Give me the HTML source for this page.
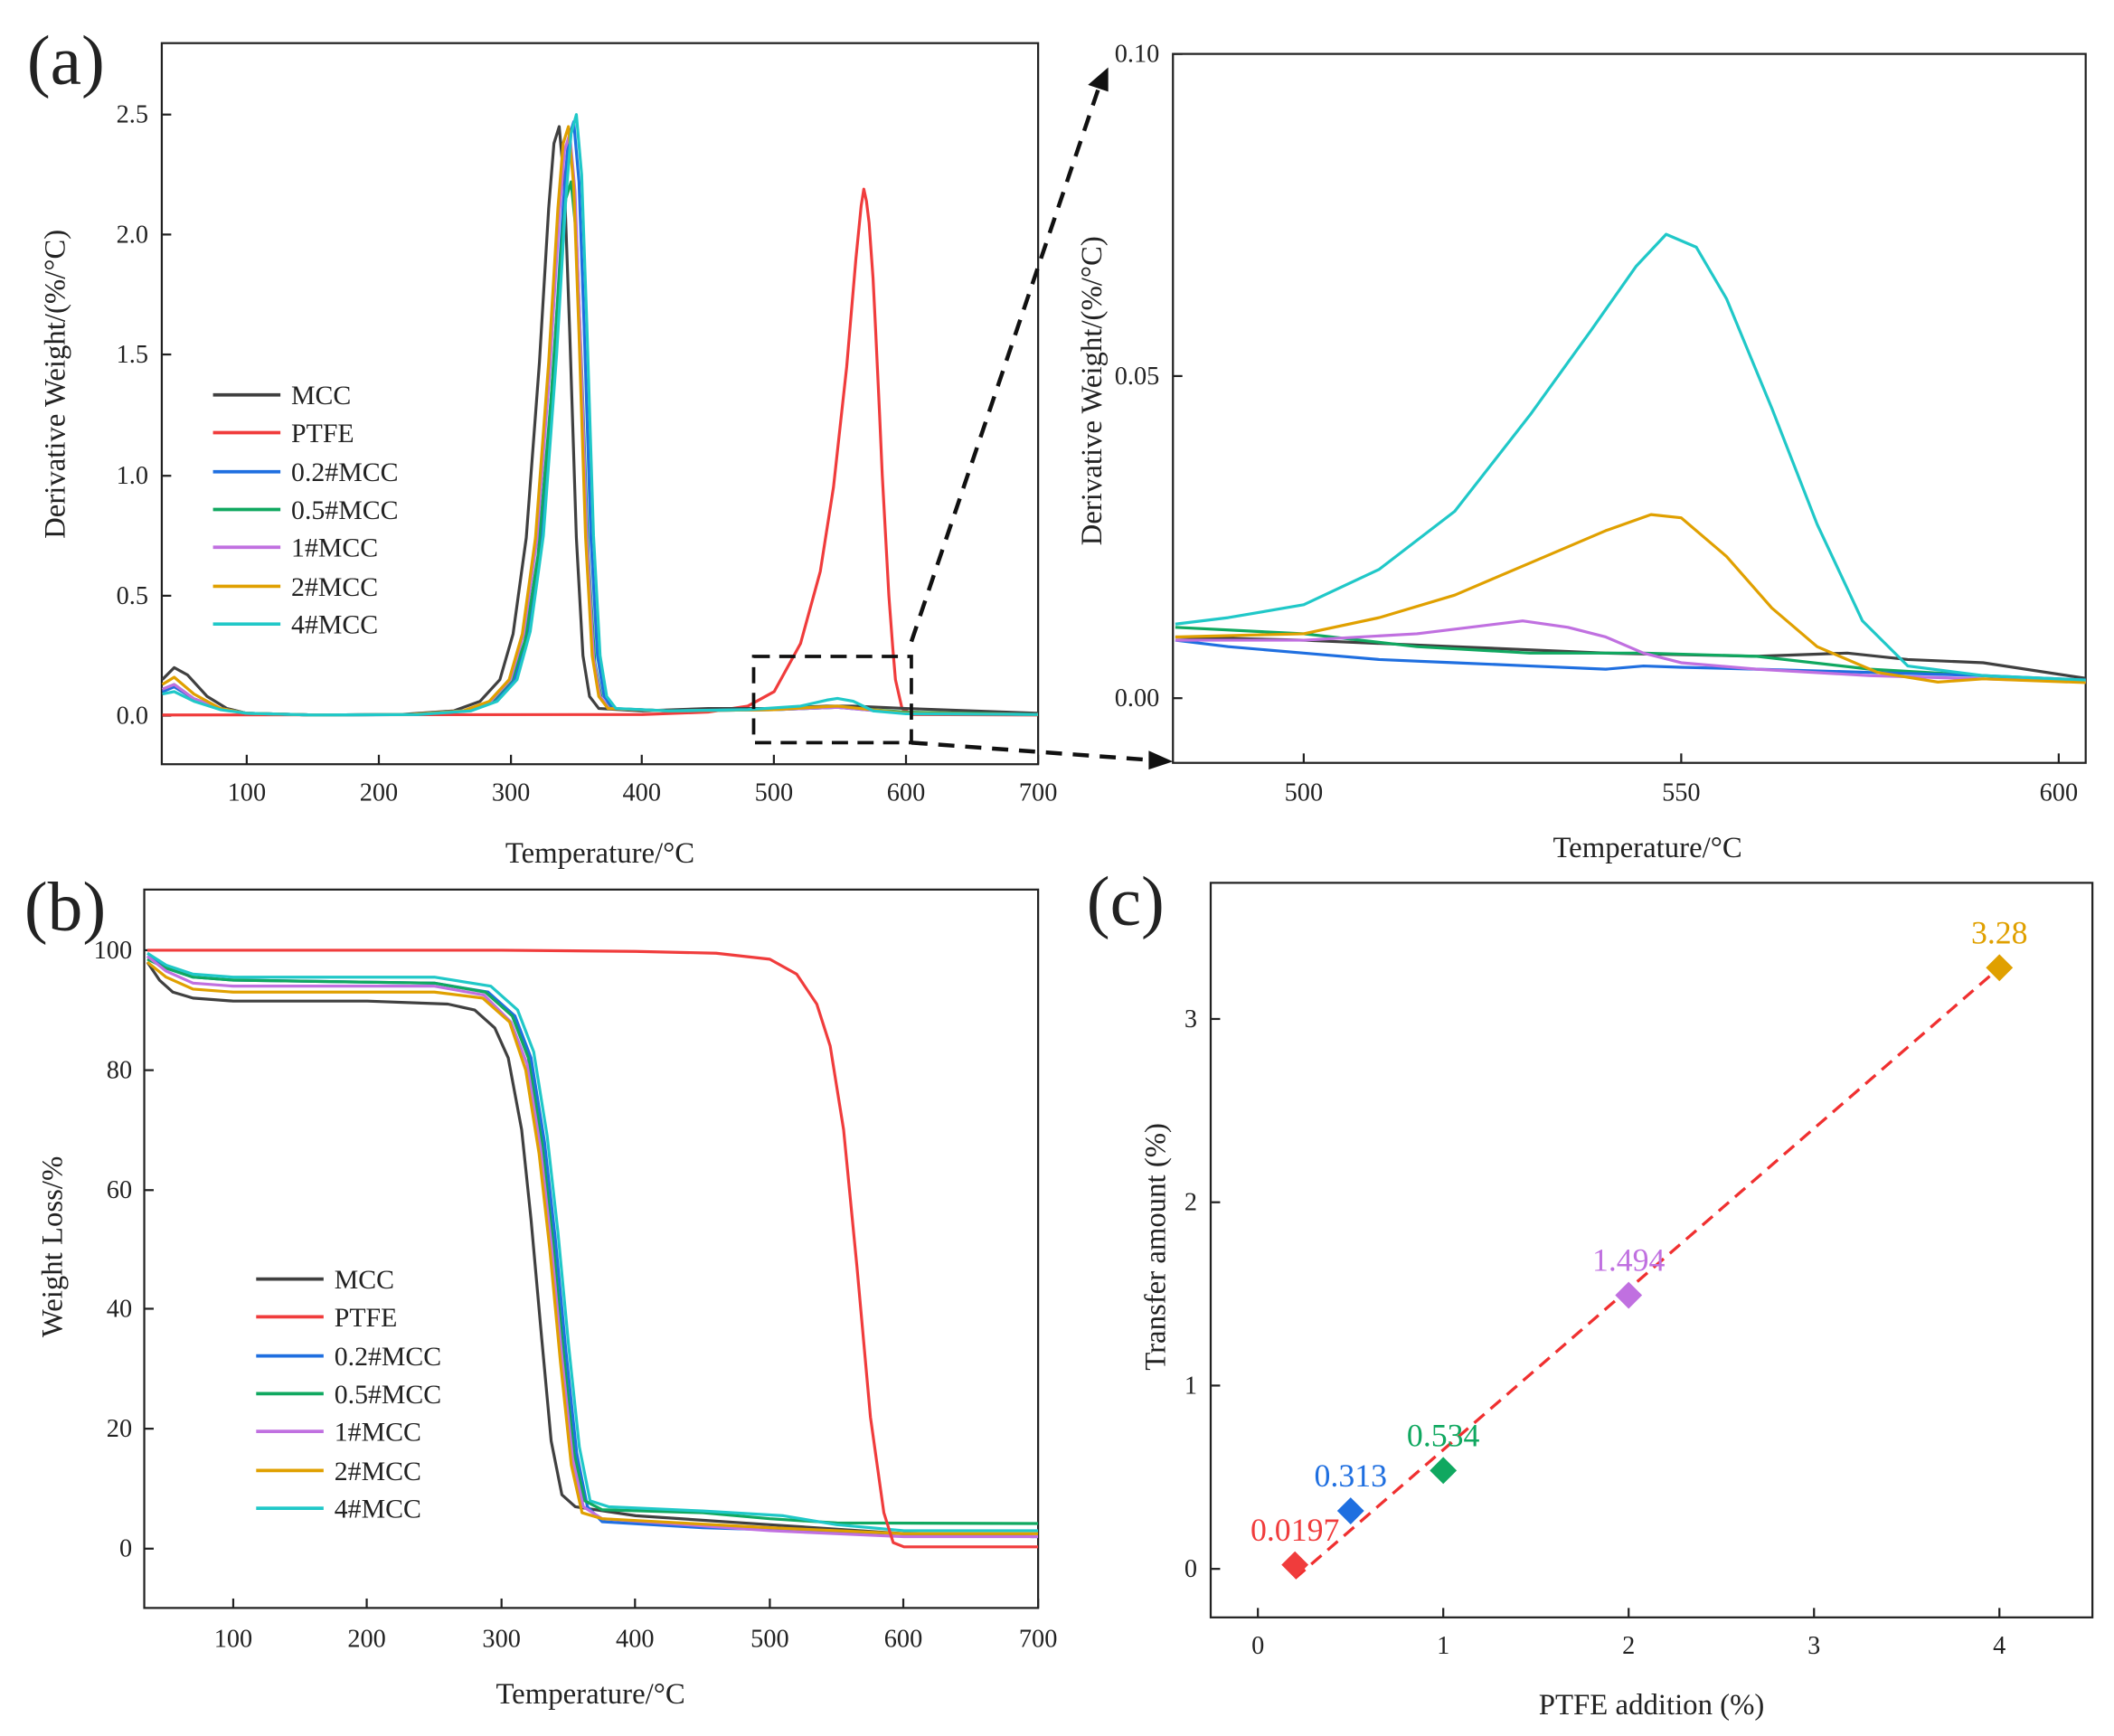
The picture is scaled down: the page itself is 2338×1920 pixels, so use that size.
<!DOCTYPE html>
<html><head><meta charset="utf-8"><style>
html,body{margin:0;padding:0;background:#fff}
svg{display:block}
text{font-family:"Liberation Serif",serif;fill:#222}
polyline{fill:none;vector-effect:non-scaling-stroke;stroke-width:3.2;stroke-linejoin:round}
</style></head><body>
<svg width="2338" height="1920" viewBox="0 0 1568 1288" preserveAspectRatio="none" xmlns="http://www.w3.org/2000/svg">
<defs>
<clipPath id="ca"><rect x="120" y="32" width="650" height="535"/></clipPath>
<clipPath id="cr"><rect x="870" y="40" width="677" height="526"/></clipPath>
<clipPath id="cb"><rect x="107" y="660" width="663" height="533"/></clipPath>
</defs>
<rect width="1568" height="1288" fill="#fff"/>

<!-- ===== Panel (a) ===== -->
<text x="20" y="62" font-size="52">(a)</text>
<rect x="120" y="32" width="650" height="535" fill="none" stroke="#222" stroke-width="1.5"/>
<g stroke="#222" stroke-width="1.5">
<line x1="183" y1="567" x2="183" y2="560"/><line x1="281" y1="567" x2="281" y2="560"/><line x1="379" y1="567" x2="379" y2="560"/><line x1="476" y1="567" x2="476" y2="560"/><line x1="574" y1="567" x2="574" y2="560"/><line x1="672" y1="567" x2="672" y2="560"/><line x1="770" y1="567" x2="770" y2="560"/>
<line x1="120" y1="531" x2="127" y2="531"/><line x1="120" y1="442" x2="127" y2="442"/><line x1="120" y1="353" x2="127" y2="353"/><line x1="120" y1="263" x2="127" y2="263"/><line x1="120" y1="174" x2="127" y2="174"/><line x1="120" y1="85" x2="127" y2="85"/>
</g>
<g font-size="19" text-anchor="middle">
<text x="183" y="594">100</text><text x="281" y="594">200</text><text x="379" y="594">300</text><text x="476" y="594">400</text><text x="574" y="594">500</text><text x="672" y="594">600</text><text x="770" y="594">700</text>
</g>
<g font-size="19" text-anchor="end">
<text x="110" y="537">0.0</text><text x="110" y="448">0.5</text><text x="110" y="359">1.0</text><text x="110" y="269">1.5</text><text x="110" y="180">2.0</text><text x="110" y="91">2.5</text>
</g>
<text x="445" y="640" font-size="22" text-anchor="middle">Temperature/°C</text>
<text font-size="22" text-anchor="middle" transform="translate(48,285) rotate(-90)">Derivative Weight/(%/°C)</text>

<g clip-path="url(#ca)">
<g transform="matrix(0.978 0 0 -1.784 85.2 531)">
<polyline stroke="#f03c3c" points="36,0.3 400,0.5 450,1.5 480,4 500,10 520,30 535,60 545,95 555,145 562,190 566,212 568,219 570,214 572,205 575,182 577,160 580,125 582,100 585,70 587,50 590,28 592,15 597,3 605,0.5 700,0.3"/>
<polyline stroke="#404040" points="36,15 45,20 55,17 70,8 85,3 100,1 150,0.3 217,0.5 257,2 277,6 292,15 302,34 312,74 322,147 329,211 333,238 337,245 341,220 345,159 350,74 355,25 360,8 367,3 400,2 450,3 500,3 540,4 560,4 600,3 700,1"/>
<polyline stroke="#1f6fe0" points="36,10 45,12 60,7 80,3 100,1 150,0.3 228,0.5 268,2 288,6 303,15 313,35 323,74 333,148 340,212 344,240 348,247 352,222 356,160 361,74 366,25 371,8 378,3 420,2 500,2.5 548,3.5 600,1 700,0.5"/>
<polyline stroke="#10a860" points="36,11 45,13 60,7 80,3 100,1 150,0.3 226,0.5 266,2 286,6 301,15 311,31 321,67 331,133 338,191 342,215 346,222 350,200 354,144 359,67 364,22 369,7 376,3 420,2 500,2.5 548,3.5 600,1.5 700,0.5"/>
<polyline stroke="#c070e0" points="36,11 45,13 60,7 80,3 100,1 150,0.3 225,0.5 265,2 285,6 300,15 310,34 320,73 330,145 337,208 341,235 345,242 349,218 353,157 358,73 363,24 368,8 375,3 420,2 500,2.5 548,3.5 600,1 700,0.5"/>
<polyline stroke="#e0a000" points="36,13 45,16 60,9 80,3 100,1 150,0.3 224,0.5 264,2 284,6 299,15 309,34 319,74 329,147 336,211 340,238 344,245 348,220 352,159 357,74 362,25 367,8 374,3 420,2 500,2.5 530,3.5 548,4 565,3 600,1 700,0.5"/>
<polyline stroke="#20c8c8" points="36,9 45,10 60,6 80,2.5 100,1 150,0.3 230,0.5 270,2 290,6 305,15 315,35 325,75 335,150 342,215 346,242 350,250 354,225 358,162 363,75 368,25 373,8 380,3 420,2 480,2.5 520,4 540,6.5 548,7.2 560,6 575,2 600,0.8 700,0.5"/>
</g>
</g>
<g font-size="20">
<line x1="158" y1="293" x2="208" y2="293" stroke="#404040" stroke-width="2.5"/><text x="216" y="300">MCC</text>
<line x1="158" y1="321" x2="208" y2="321" stroke="#f03c3c" stroke-width="2.5"/><text x="216" y="328">PTFE</text>
<line x1="158" y1="350" x2="208" y2="350" stroke="#1f6fe0" stroke-width="2.5"/><text x="216" y="357">0.2#MCC</text>
<line x1="158" y1="378" x2="208" y2="378" stroke="#10a860" stroke-width="2.5"/><text x="216" y="385">0.5#MCC</text>
<line x1="158" y1="406" x2="208" y2="406" stroke="#c070e0" stroke-width="2.5"/><text x="216" y="413">1#MCC</text>
<line x1="158" y1="435" x2="208" y2="435" stroke="#e0a000" stroke-width="2.5"/><text x="216" y="442">2#MCC</text>
<line x1="158" y1="463" x2="208" y2="463" stroke="#20c8c8" stroke-width="2.5"/><text x="216" y="470">4#MCC</text>
</g>
<rect x="559" y="487" width="117" height="64" fill="none" stroke="#111" stroke-width="2.5" stroke-dasharray="12,7"/>
<line x1="676" y1="476" x2="815" y2="65" stroke="#111" stroke-width="3" stroke-dasharray="12,8"/>
<polygon points="822,50 807,63 822,68" fill="#111"/>
<line x1="676" y1="551" x2="855" y2="564" stroke="#111" stroke-width="3" stroke-dasharray="12,8"/>
<polygon points="870,565 852,557 852,571" fill="#111"/>

<!-- ===== Panel (a) zoom ===== -->
<rect x="870" y="40" width="677" height="526" fill="none" stroke="#222" stroke-width="1.5"/>
<g stroke="#222" stroke-width="1.5">
<line x1="967" y1="566" x2="967" y2="559"/><line x1="1247" y1="566" x2="1247" y2="559"/><line x1="1527" y1="566" x2="1527" y2="559"/>
<line x1="870" y1="518" x2="877" y2="518"/><line x1="870" y1="279" x2="877" y2="279"/><line x1="870" y1="40" x2="877" y2="40"/>
</g>
<g font-size="19" text-anchor="middle"><text x="967" y="594">500</text><text x="1247" y="594">550</text><text x="1527" y="594">600</text></g>
<g font-size="19" text-anchor="end"><text x="860" y="524">0.00</text><text x="860" y="285">0.05</text><text x="860" y="46">0.10</text></g>
<text x="1222" y="636" font-size="22" text-anchor="middle">Temperature/°C</text>
<text font-size="22" text-anchor="middle" transform="translate(817,290) rotate(-90)">Derivative Weight/(%/°C)</text>
<g clip-path="url(#cr)">
<g transform="matrix(5.6 0 0 -4.78 -1833 518)">
<polyline stroke="#404040" points="483,9.5 500,9 520,8 540,7 560,6.5 572,7 580,6 590,5.5 604,3"/>
<polyline stroke="#10a860" points="483,11 500,10 515,8 530,7 545,7 560,6.5 575,4.5 590,3.5 604,2.5"/>
<polyline stroke="#1f6fe0" points="483,9 490,8 500,7 510,6 520,5.5 530,5 540,4.5 545,5 550,4.8 560,4.5 575,4 590,3.5 604,2.8"/>
<polyline stroke="#c070e0" points="483,9 500,9 515,10 522,11 529,12 535,11 540,9.5 545,7 550,5.5 560,4.5 575,3.5 590,3 604,2.5"/>
<polyline stroke="#e0a000" points="483,9.5 500,10 510,12.5 520,16 530,21 540,26 546,28.5 550,28 556,22 562,14 568,8 576,4 584,2.5 590,3 604,2.4"/>
<polyline stroke="#20c8c8" points="483,11.5 490,12.5 500,14.5 510,20 520,29 530,44 538,57 544,67 548,72 552,70 556,62 562,45 568,27 574,12 580,5 590,3.5 604,2.8"/>
</g>
</g>

<!-- ===== Panel (b) ===== -->
<text x="18" y="690" font-size="52">(b)</text>
<rect x="107" y="660" width="663" height="533" fill="none" stroke="#222" stroke-width="1.5"/>
<g stroke="#222" stroke-width="1.5">
<line x1="173" y1="1193" x2="173" y2="1186"/><line x1="272" y1="1193" x2="272" y2="1186"/><line x1="372" y1="1193" x2="372" y2="1186"/><line x1="471" y1="1193" x2="471" y2="1186"/><line x1="571" y1="1193" x2="571" y2="1186"/><line x1="670" y1="1193" x2="670" y2="1186"/><line x1="770" y1="1193" x2="770" y2="1186"/>
<line x1="107" y1="1149" x2="114" y2="1149"/><line x1="107" y1="1060" x2="114" y2="1060"/><line x1="107" y1="971" x2="114" y2="971"/><line x1="107" y1="883" x2="114" y2="883"/><line x1="107" y1="794" x2="114" y2="794"/><line x1="107" y1="705" x2="114" y2="705"/>
</g>
<g font-size="19" text-anchor="middle">
<text x="173" y="1222">100</text><text x="272" y="1222">200</text><text x="372" y="1222">300</text><text x="471" y="1222">400</text><text x="571" y="1222">500</text><text x="670" y="1222">600</text><text x="770" y="1222">700</text>
</g>
<g font-size="19" text-anchor="end">
<text x="98" y="1155">0</text><text x="98" y="1066">20</text><text x="98" y="977">40</text><text x="98" y="889">60</text><text x="98" y="800">80</text><text x="98" y="711">100</text>
</g>
<text x="438" y="1264" font-size="22" text-anchor="middle">Temperature/°C</text>
<text font-size="22" text-anchor="middle" transform="translate(46,925) rotate(-90)">Weight Loss/%</text>
<g clip-path="url(#cb)">
<g transform="matrix(0.995 0 0 -4.44 73.5 1149)">
<polyline stroke="#404040" points="36,98 45,95 55,93 70,92 100,91.5 200,91.5 260,91 280,90 295,87 305,82 315,70 322,55 330,35 337,18 345,9 355,7 400,5.5 500,4 600,2.5 700,2"/>
<polyline stroke="#1f6fe0" points="36,99 50,97 70,95.5 100,95 250,94.5 290,93 310,89 322,82 332,68 340,52 348,33 356,16 364,7 375,4.5 450,3.5 600,2.5 700,2"/>
<polyline stroke="#10a860" points="36,98.5 50,97 70,95.5 100,95 250,94.5 288,93 308,89 320,82 330,68 338,52 346,33 354,16 362,8 375,6.5 450,6 500,5 550,4.3 700,4.2"/>
<polyline stroke="#c070e0" points="36,99 50,96.5 70,94.5 100,94 250,94 287,92.5 307,88 319,81 329,67 337,51 345,32 353,15 361,7 375,5 500,3 600,2 700,2"/>
<polyline stroke="#e0a000" points="36,98 50,95.5 70,93.5 100,93 250,93 286,92 306,88 318,80 328,66 336,50 344,31 352,14 360,6 375,5 500,3.5 600,2.5 700,2.5"/>
<polyline stroke="#20c8c8" points="36,99.5 50,97.5 70,96 100,95.5 250,95.5 292,94 312,90 324,83 334,69 342,53 350,34 358,17 366,8 380,7 450,6.3 510,5.5 550,4 600,3 700,3"/>
<polyline stroke="#f03c3c" points="36,100 300,100 400,99.8 460,99.5 500,98.5 520,96 535,91 545,84 555,70 565,47 575,22 585,6 592,1 600,0.3 700,0.3"/>
</g>
</g>
<g font-size="20">
<line x1="190" y1="949" x2="240" y2="949" stroke="#404040" stroke-width="2.5"/><text x="248" y="956">MCC</text>
<line x1="190" y1="977" x2="240" y2="977" stroke="#f03c3c" stroke-width="2.5"/><text x="248" y="984">PTFE</text>
<line x1="190" y1="1006" x2="240" y2="1006" stroke="#1f6fe0" stroke-width="2.5"/><text x="248" y="1013">0.2#MCC</text>
<line x1="190" y1="1034" x2="240" y2="1034" stroke="#10a860" stroke-width="2.5"/><text x="248" y="1041">0.5#MCC</text>
<line x1="190" y1="1062" x2="240" y2="1062" stroke="#c070e0" stroke-width="2.5"/><text x="248" y="1069">1#MCC</text>
<line x1="190" y1="1091" x2="240" y2="1091" stroke="#e0a000" stroke-width="2.5"/><text x="248" y="1098">2#MCC</text>
<line x1="190" y1="1119" x2="240" y2="1119" stroke="#20c8c8" stroke-width="2.5"/><text x="248" y="1126">4#MCC</text>
</g>

<!-- ===== Panel (c) ===== -->
<text x="806" y="686" font-size="52">(c)</text>
<rect x="898" y="655" width="654" height="545" fill="none" stroke="#222" stroke-width="1.5"/>
<g stroke="#222" stroke-width="1.5">
<line x1="933" y1="1200" x2="933" y2="1193"/><line x1="1070.5" y1="1200" x2="1070.5" y2="1193"/><line x1="1208" y1="1200" x2="1208" y2="1193"/><line x1="1345.5" y1="1200" x2="1345.5" y2="1193"/><line x1="1483" y1="1200" x2="1483" y2="1193"/>
<line x1="898" y1="1164" x2="905" y2="1164"/><line x1="898" y1="1028" x2="905" y2="1028"/><line x1="898" y1="892" x2="905" y2="892"/><line x1="898" y1="756" x2="905" y2="756"/>
</g>
<g font-size="19" text-anchor="middle">
<text x="933" y="1227">0</text><text x="1070.5" y="1227">1</text><text x="1208" y="1227">2</text><text x="1345.5" y="1227">3</text><text x="1483" y="1227">4</text>
</g>
<g font-size="19" text-anchor="end">
<text x="888" y="1170">0</text><text x="888" y="1034">1</text><text x="888" y="898">2</text><text x="888" y="762">3</text>
</g>
<text x="1225" y="1272" font-size="22" text-anchor="middle">PTFE addition (%)</text>
<text font-size="22" text-anchor="middle" transform="translate(864,925) rotate(-90)">Transfer amount (%)</text>
<line x1="960.5" y1="1171" x2="1483" y2="718" stroke="#f03030" stroke-width="2.2" stroke-dasharray="10,6"/>
<polygon points="960.5,1151 970.5,1161 960.5,1171 950.5,1161" fill="#f03c3c"/>
<polygon points="1001.8,1111 1011.8,1121 1001.8,1131 991.8,1121" fill="#1f6fe0"/>
<polygon points="1070.5,1081 1080.5,1091 1070.5,1101 1060.5,1091" fill="#10a860"/>
<polygon points="1208,951 1218,961 1208,971 1198,961" fill="#c070e0"/>
<polygon points="1483,708 1493,718 1483,728 1473,718" fill="#e0a000"/>
<g font-size="24" text-anchor="middle">
<text x="960.5" y="1143" style="fill:#f03c3c">0.0197</text>
<text x="1001.8" y="1103" style="fill:#1f6fe0">0.313</text>
<text x="1070.5" y="1073" style="fill:#10a860">0.534</text>
<text x="1208" y="943" style="fill:#c070e0">1.494</text>
<text x="1483" y="700" style="fill:#e0a000">3.28</text>
</g>
</svg>
</body></html>
